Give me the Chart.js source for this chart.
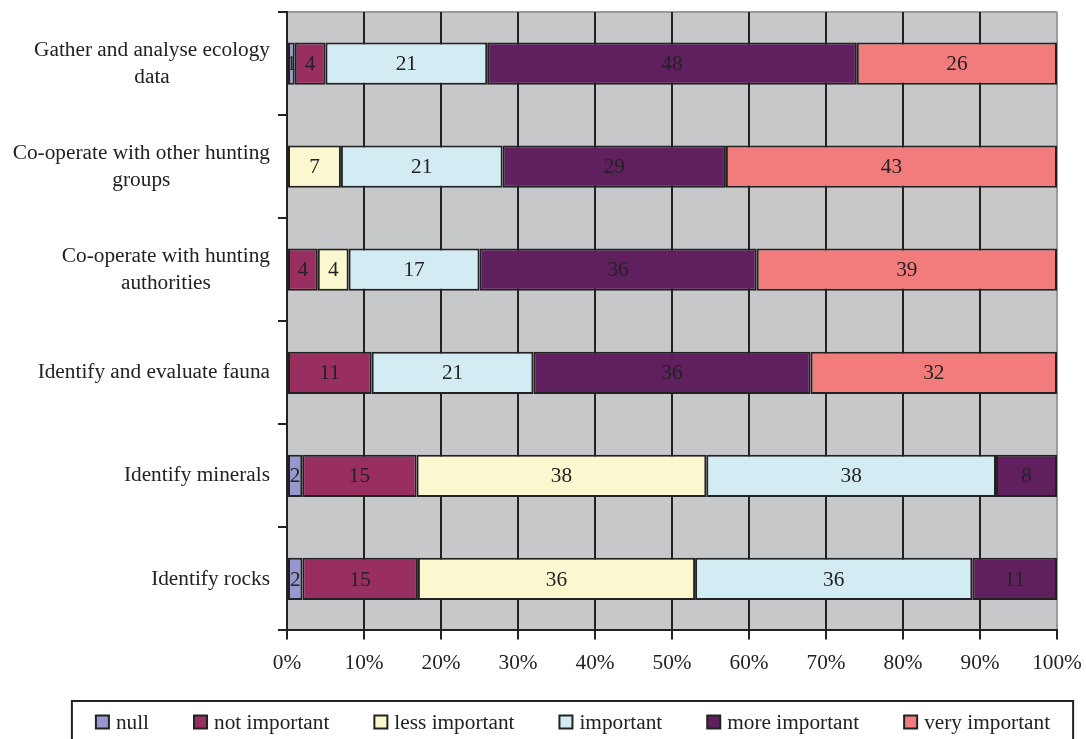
<!DOCTYPE html>
<html>
<head>
<meta charset="utf-8">
<script src="https://cdn.jsdelivr.net/npm/chart.js@4/dist/chart.umd.min.js"></script>
<style>
  html, body { margin: 0; padding: 0; background: #fff; }
  #wrap { width: 1086px; height: 739px; }
</style>
</head>
<body>
<div id="wrap"><canvas id="chart" width="1086" height="739"></canvas></div>
<script>
// categories, top to bottom
const categories = [
  ["Gather and analyse ecology", "data"],
  ["Co-operate with other hunting", "groups"],
  ["Co-operate with hunting", "authorities"],
  ["Identify and evaluate fauna"],
  ["Identify minerals"],
  ["Identify rocks"],
];
const seriesNames = ["null", "not important", "less important", "important", "more important", "very important"];
const nullVals      = [1, 0, 0, 0, 2, 2];
const notImportant  = [4, 0, 4, 11, 15, 15];
const lessImportant = [0, 7, 4, 0, 38, 36];
const important     = [21, 21, 17, 21, 38, 36];
const moreImportant = [48, 29, 36, 36, 8, 11];
const veryImportant = [26, 43, 39, 32, 0, 0];
const xTicks = [0, 10, 20, 30, 40, 50, 60, 70, 80, 90, 100];

const series = [nullVals, notImportant, lessImportant, important, moreImportant, veryImportant];
const colors = ["#9898d0", "#992f60", "#fbf8cf", "#d3ecf3", "#602060", "#f27c7c"];

// 100% stacked: normalise each row
const rowSums = categories.map((c, i) => series.reduce((s, arr) => s + arr[i], 0));

const serif = "'Liberation Serif', 'DejaVu Serif', serif";
const fs = 21.3;
const ink = "#222";

const plotBg = {
  id: "plotBg",
  beforeDraw(chart) {
    const { ctx, chartArea: a } = chart;
    ctx.save();
    ctx.fillStyle = "#c7c8ca";
    ctx.fillRect(a.left, a.top, a.right - a.left, a.bottom - a.top);
    ctx.strokeStyle = "#9a9a9a";
    ctx.lineWidth = 2;
    ctx.beginPath();
    ctx.moveTo(a.left, a.top);
    ctx.lineTo(a.right, a.top);
    ctx.stroke();
    ctx.restore();
  }
};

// y labels: block right-aligned, lines centred inside the block
const yLabels = {
  id: "yLabels",
  afterDraw(chart) {
    const { ctx } = chart;
    const y = chart.scales.y;
    ctx.save();
    ctx.font = fs + "px " + serif;
    ctx.fillStyle = ink;
    ctx.textAlign = "center";
    ctx.textBaseline = "middle";
    categories.forEach((lines, i) => {
      const cy = y.getPixelForTick(i);
      const w = Math.max(...lines.map(l => ctx.measureText(l).width));
      const cx = 270 - w / 2;
      lines.forEach((l, k) => {
        ctx.fillText(l, cx, cy + (k - (lines.length - 1) / 2) * 27);
      });
    });
    ctx.restore();
  }
};

// numbers inside the bars
const barLabels = {
  id: "barLabels",
  afterDatasetsDraw(chart) {
    const { ctx } = chart;
    ctx.save();
    ctx.font = fs + "px " + serif;
    ctx.fillStyle = ink;
    ctx.textAlign = "center";
    ctx.textBaseline = "middle";
    chart.data.datasets.forEach((ds, di) => {
      const meta = chart.getDatasetMeta(di);
      meta.data.forEach((bar, i) => {
        const raw = series[di][i];
        if (!raw) return;
        ctx.fillText(String(raw), (bar.x + bar.base) / 2, bar.y + 1);
      });
    });
    ctx.restore();
  }
};

// boxed legend under the axis
const boxLegend = {
  id: "boxLegend",
  afterDraw(chart) {
    const { ctx } = chart;
    const box = 13, gap = 7, space = 45, cy = 722, mid = 573;
    ctx.save();
    ctx.font = fs + "px " + serif;
    const widths = seriesNames.map(n => ctx.measureText(n).width);
    const total = widths.reduce((s, w) => s + box + gap + w, 0) + space * (seriesNames.length - 1);
    let x = mid - total / 2;
    const left = x - 24, right = x + total + 23;
    ctx.strokeStyle = ink;
    ctx.lineWidth = 2;
    ctx.strokeRect(left, 701, right - left, 60);
    ctx.textBaseline = "middle";
    ctx.textAlign = "left";
    chart.data.datasets.forEach((ds, i) => {
      ctx.fillStyle = ds.backgroundColor;
      ctx.fillRect(x, cy - box / 2, box, box);
      ctx.strokeStyle = ink;
      ctx.lineWidth = 2;
      ctx.strokeRect(x, cy - box / 2, box, box);
      ctx.fillStyle = ink;
      ctx.fillText(ds.label, x + box + gap, cy + 1);
      x += box + gap + widths[i] + space;
    });
    ctx.restore();
  }
};

new Chart(document.querySelector("#chart"), {
  type: "bar",
  data: {
    labels: categories,
    datasets: series.map((arr, di) => ({
      label: seriesNames[di],
      data: arr.map((v, i) => v / rowSums[i] * 100),
      backgroundColor: colors[di],
      borderColor: ink,
      borderWidth: 2,
      borderSkipped: false,
      categoryPercentage: 1,
      barPercentage: 0.41,
    })),
  },
  options: {
    indexAxis: "y",
    responsive: false,
    animation: false,
    layout: { padding: { left: 0, right: 29, top: 12, bottom: 52 } },
    scales: {
      x: {
        stacked: true,
        min: 0,
        max: 100,
        afterBuildTicks(scale) {
          scale.ticks = xTicks.map(v => ({ value: v }));
        },
        afterFit(scale) { scale.paddingRight = 0; },
        ticks: {
          callback: v => v + "%",
          font: { family: serif, size: fs },
          color: ink,
          padding: 11,
          maxRotation: 0,
        },
        grid: {
          color: ctx => (ctx.index === xTicks.length - 1 ? "#9a9a9a" : ink),
          lineWidth: 2,
          tickLength: 9,
          tickColor: ink,
        },
        border: { color: ink, width: 2 },
      },
      y: {
        stacked: true,
        afterFit(scale) { scale.width = 287; },
        ticks: { display: false },
        grid: {
          offset: true,
          drawOnChartArea: false,
          tickLength: 9,
          color: ink,
          lineWidth: 2,
        },
        border: { color: ink, width: 2 },
      },
    },
    plugins: {
      legend: { display: false },
      tooltip: { enabled: false },
    },
  },
  plugins: [plotBg, yLabels, barLabels, boxLegend],
});
</script>
</body>
</html>
